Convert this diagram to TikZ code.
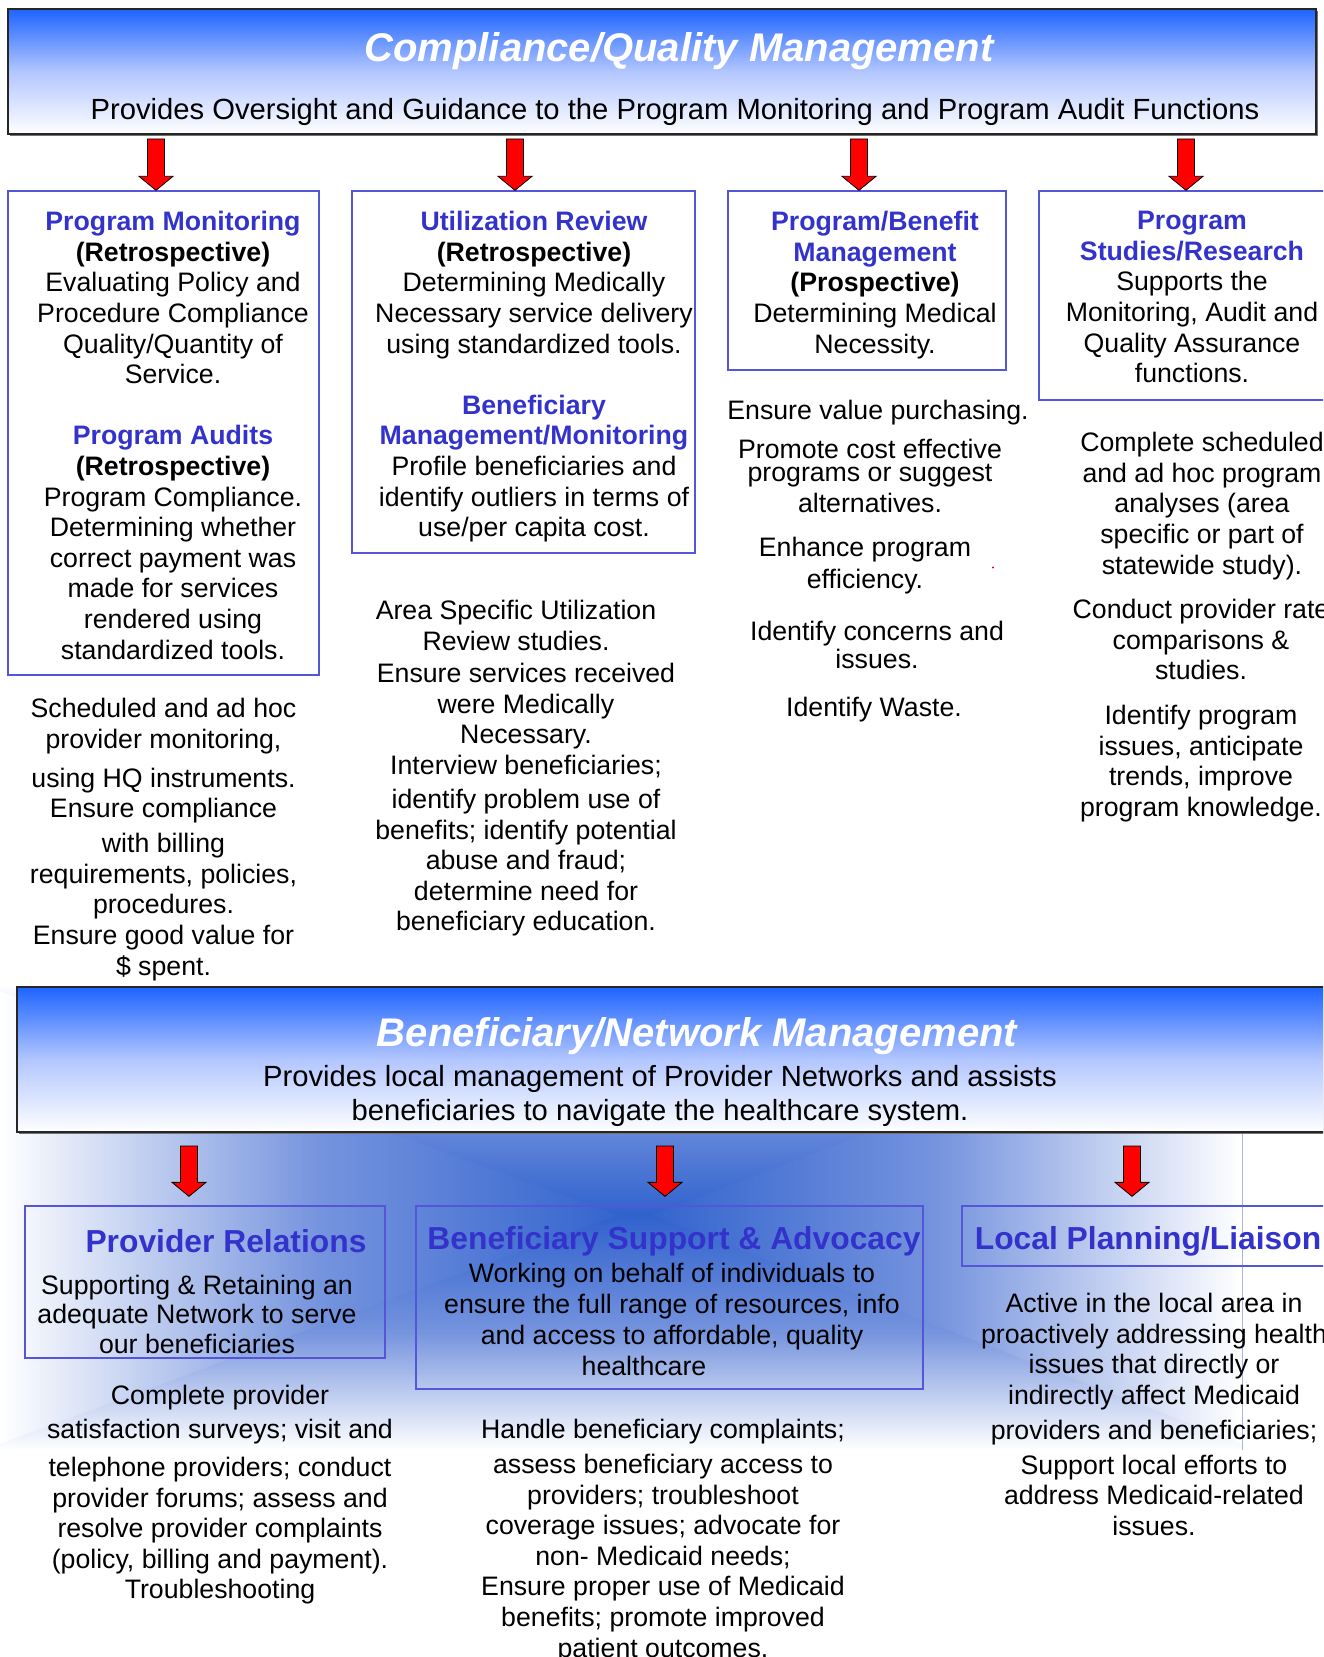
\documentclass[tikz,border=0pt]{standalone}
\usepackage{fontspec}
\setmainfont{Liberation Sans}
\usetikzlibrary{positioning,calc,fit,shadows}

\definecolor{hdrblue}{RGB}{30,100,255}
\definecolor{hdrmid}{RGB}{178,198,255}
\definecolor{cardline}{RGB}{85,85,215}
\definecolor{cardtitle}{RGB}{51,51,204}
\definecolor{glowdeep}{RGB}{48,98,205}
\definecolor{glowmid}{RGB}{118,148,222}
\definecolor{seamline}{RGB}{168,180,232}

\newcommand{\cardhead}[1]{{\color{cardtitle}\bfseries #1}}

\tikzset{
  header/.style={draw=black!85, line width=.6pt, inner sep=0pt,
    top color=hdrblue, bottom color=white, middle color=hdrmid,
    general shadow={fill=black!55, shadow xshift=1pt, shadow yshift=-1.2pt}},
  card/.style={draw=cardline, line width=.65pt, inner sep=0pt},
  hdrtitle/.style={font=\fontsize{20}{24}\selectfont\bfseries\itshape, text=white, inner sep=0pt, yshift=-1.2pt},
  hdrsub/.style={font=\fontsize{14.6}{16.9}\selectfont, align=center, inner sep=0pt},
  cardname/.style={font=\fontsize{15.9}{19}\selectfont\bfseries, text=cardtitle, inner sep=0pt, yshift=-1.5pt},
  body/.style={font=\fontsize{13.35}{15.3}\selectfont, align=center, inner sep=0pt, anchor=north, yshift=-1pt},
  % block arrow pointing down, tip at the target
  redarrow/.style={draw=black, line width=.4pt, fill=red,
    to path={let \p1=(\tikztostart), \p2=(\tikztotarget) in
      (\x1-4.25pt,\y1) -- (\x1+4.25pt,\y1) -- (\x1+4.25pt,\y2+7pt)
      -- (\x1+8.5pt,\y2+7pt) -- (\x1,\y2) -- (\x1-8.5pt,\y2+7pt)
      -- (\x1-4.25pt,\y2+7pt) -- cycle}},
}

\begin{document}
\begin{tikzpicture}[x=0.5pt, y=-0.5pt]
\useasboundingbox (0,0) rectangle (1323,1657);
\clip (0,0) rectangle (1323,1657);

% glow behind the lower row: four wedges shaded towards the centre
\coordinate (gc) at (635,1215);
\coordinate (gnw) at (0,985);
\coordinate (gne) at (1242,985);
\coordinate (gse) at (1242,1450);
\coordinate (gsw) at (0,1450);
\shade[left color=white, right color=glowdeep, middle color=glowmid] (gnw) -- (gc) -- (gsw) -- cycle;
\shade[left color=glowdeep, right color=white, middle color=glowmid] (gne) -- (gc) -- (gse) -- cycle;
\begin{scope}
  \clip (gnw) -- (gne) -- ([yshift=-3pt]gne) -- ([yshift=-3pt]gc) -- ([yshift=-3pt]gnw) -- cycle;
  \shade[top color=white, bottom color=glowdeep, middle color=glowmid] (gnw) rectangle (gc -| gne);
\end{scope}
\begin{scope}
  \clip (gsw) -- (gse) -- ([yshift=3pt]gse) -- ([yshift=3pt]gc) -- ([yshift=3pt]gsw) -- cycle;
  \shade[top color=glowdeep, bottom color=white, middle color=glowmid] (gc -| gsw) rectangle (gse);
\end{scope}
\draw[seamline, line width=.5pt] (1242,1132) -- (1242,1450);

% upper header
\node[header, fit={(8,9) (1316,134)}] (cq) {};
\node[hdrtitle] (cqtitle) at (679,49) {Compliance/Quality Management};
\node[hdrsub] (cqsub) at (675,112) {Provides Oversight and Guidance to the Program Monitoring and Program Audit Functions};

% upper row of cards
\node[card, fit={(8,191) (319,675)}] (pm) {};
\node[card, fit={(352,191) (695,553)}] (ur) {};
\node[card, fit={(728,191) (1006,370)}] (pb) {};
\node[card, fit={(1039,191) (1345,400)}] (ps) {};

\node[body] (pmtext) at (173,209) {\cardhead{Program Monitoring}\\
  \textbf{(Retrospective)}\\ Evaluating Policy and\\ Procedure Compliance\\
  Quality/Quantity of\\ Service.\\[15.3pt]
  \cardhead{Program Audits}\\ \textbf{(Retrospective)}\\ Program Compliance.\\
  Determining whether\\ correct payment was\\ made for services\\
  rendered using\\ standardized tools.};
\node[body] (urtext) at (534,209) {\cardhead{Utilization Review}\\
  \textbf{(Retrospective)}\\ Determining Medically\\ Necessary service delivery\\
  using standardized tools.\\[15.3pt]
  \cardhead{Beneficiary}\\ \cardhead{Management/Monitoring}\\
  Profile beneficiaries and\\ identify outliers in terms of\\ use/per capita cost.};
\node[body] (pbtext) at (875,209) {\cardhead{Program/Benefit}\\ \cardhead{Management}\\
  \textbf{(Prospective)}\\ Determining Medical\\ Necessity.};
\node[body] (pstext) at (1192,209) {\cardhead{Program}\\ \cardhead{Studies/Research}\\
  Supports the\\ Monitoring, Audit and\\ Quality Assurance\\ functions.};

% notes under the upper cards
\node[body, below=10pt of pm] (pmnotes) {Scheduled and ad hoc\\ provider monitoring,\\[4.2pt]
  using HQ instruments.\\ Ensure compliance\\[2.2pt] with billing\\
  requirements, policies,\\ procedures.\\ Ensure good value for\\ \$ spent.};
\node[body] (urnotes1) at (516,598) {Area Specific Utilization\\ Review studies.};
\node[body] (urnotes2) at (526,661) {Ensure services received\\ were Medically\\ Necessary.\\
  Interview beneficiaries;\\[1.7pt] identify problem use of\\ benefits; identify potential\\
  abuse and fraud;\\ determine need for\\ beneficiary education.};
\node[body] (pbnotes1) at (878,398) {Ensure value purchasing.};
\node[body] (pbnotes2) at (870,437) {Promote cost effective\\[-3.7pt] programs or suggest\\ alternatives.};
\node[body] (pbnotes3) at (865,535) {Enhance program\\[.5pt] efficiency.};
\node[body] (pbnotes4) at (877,619) {Identify concerns and\\[-1.5pt] issues.};
\node[body] (pbnotes5) at (874,695) {Identify Waste.};
\fill[red!85!blue] (993,567.5) circle (.6pt);
\node[body] (psnotes1) at (1202,430) {Complete scheduled\\ and ad hoc program\\ analyses (area\\
  specific or part of\\ statewide study).};
\node[body] (psnotes2) at (1201,597) {Conduct provider rate\\ comparisons \&\\ studies.};
\node[body] (psnotes3) at (1201,703) {Identify program\\ issues, anticipate\\ trends, improve\\
  program knowledge.};

% arrows from the upper header
\coordinate (a1) at (156,139);
\coordinate (a2) at (515,139);
\coordinate (a3) at (859,139);
\coordinate (a4) at (1186,139);
\draw[redarrow] (a1) to (a1 |- pm.north);
\draw[redarrow] (a2) to (a2 |- ur.north);
\draw[redarrow] (a3) to (a3 |- pb.north);
\draw[redarrow] (a4) to (a4 |- ps.north);

% lower header
\node[header, fit={(17,987) (1345,1132)}] (bn) {};
\node[hdrtitle] (bntitle) at (697,1034) {Beneficiary/Network Management};
\node[hdrsub, anchor=north] (bnsub) at (660,1065) {Provides local management of Provider Networks and assists\\
  beneficiaries to navigate the healthcare system.};

% lower row of cards
\node[card, fit={(25,1206) (385,1358)}] (pr) {};
\node[card, fit={(416,1206) (923,1389)}] (bs) {};
\node[card, fit={(962,1206) (1345,1266)}] (lp) {};
\node[cardname] (prname) at (226,1238.5) {Provider Relations};
\node[cardname] (bsname) at (674,1238.5) {Beneficiary Support \& Advocacy};
\node[cardname] (lpname) at (1148,1238.5) {Local Planning/Liaison};
\node[body] (prtext) at (197,1273) {Supporting \& Retaining an\\[-1pt] adequate Network to serve\\
  our beneficiaries};
\node[body] (bstext) at (672,1261) {Working on behalf of individuals to\\
  ensure the full range of resources, info\\[.5pt] and access to affordable, quality\\
  healthcare\hspace*{28pt}};

% notes under the lower cards
\node[body] (prnotes) at (220,1383) {Complete provider\\[1.6pt] satisfaction surveys; visit and\\[3.7pt]
  telephone providers; conduct\\ provider forums; assess and\\ resolve provider complaints\\
  (policy, billing and payment).\\ Troubleshooting};
\node[body] (bsnotes) at (663,1417) {Handle beneficiary complaints;\\[2.1pt] assess beneficiary access to\\
  providers; troubleshoot\\ coverage issues; advocate for\\ non- Medicaid needs;\\
  Ensure proper use of Medicaid\\ benefits; promote improved\\ patient outcomes.};
\node[body] (lpnotes) at (1154,1291) {Active in the local area in\\ proactively addressing health\\
  issues that directly or\\ indirectly affect Medicaid\\[2.1pt] providers and beneficiaries;\\[2.1pt]
  Support local efforts to\\ address Medicaid-related\\ issues.};

% arrows from the lower header
\coordinate (b1) at (189,1146);
\coordinate (b2) at (665,1146);
\coordinate (b3) at (1132,1146);
\draw[redarrow] (b1) to ([yshift=4.5pt]b1 |- pr.north);
\draw[redarrow] (b2) to ([yshift=4.5pt]b2 |- bs.north);
\draw[redarrow] (b3) to ([yshift=4.5pt]b3 |- lp.north);
\end{tikzpicture}
\end{document}
